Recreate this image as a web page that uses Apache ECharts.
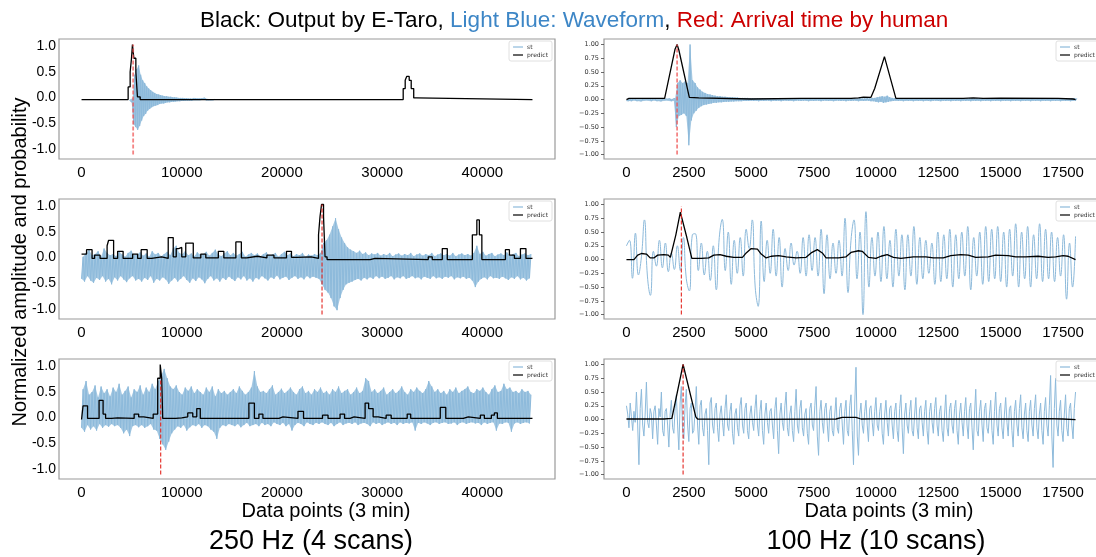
<!DOCTYPE html>
<html><head><meta charset="utf-8">
<script src="https://cdn.jsdelivr.net/npm/echarts@6/dist/echarts.min.js"></script>
<style>html,body{margin:0;padding:0;background:#fff}#c{width:1096px;height:557px}</style>
</head><body><div id="c"></div><script>
// ---------- tick labels ----------
const ticksX250 = [0, 10000, 20000, 30000, 40000];
const ticksX100 = [0, 2500, 5000, 7500, 10000, 12500, 15000, 17500];
const ticksYL = [-1, -0.5, 0, 0.5, 1];
const ticksYR = [-1, -0.75, -0.5, -0.25, 0, 0.25, 0.5, 0.75, 1];

// ---------- Panel A: 250 Hz, scan 1 (waveform envelope, sampled grid) ----------
const wA_start = 4800, wA_step = 200;
const wA_hi = [0.01,0.02,0.45,0.55,0.62,0.45,0.35,0.3,0.24,0.2,
  0.17,0.14,0.12,0.1,0.09,0.08,0.07,0.06,0.06,0.05,
  0.05,0.04,0.04,0.035,0.03,0.03,0.03,0.025,0.025,0.02,
  0.02,0.02,0.02,0.015,0.015,0.015,0.02,0.03,0.015,0.01,
  0.01,0.01,0.005];
const wA_lo = [-0.01,-0.05,-0.45,-0.5,-0.55,-0.48,-0.38,-0.3,-0.26,-0.2,
  -0.17,-0.14,-0.12,-0.11,-0.1,-0.08,-0.07,-0.07,-0.06,-0.05,
  -0.05,-0.04,-0.04,-0.035,-0.03,-0.03,-0.025,-0.025,-0.02,-0.02,
  -0.02,-0.02,-0.015,-0.015,-0.015,-0.015,-0.01,-0.01,-0.01,-0.01,
  -0.01,-0.01,-0.005];
const pA_x = [0,4650,4850,4980,5080,5220,5420,5580,5850,32100,32300,32450,32700,32900,33150,33400,45000];
const pA_y = [0,0.23,0.5,0.74,1.0,0.75,0.5,0.05,0,0.2,0.35,0.42,0.35,0.2,0.03,0,0];
const rA_x = 5150;

// ---------- Panel B: 100 Hz, scan 1 ----------
const wB_start = 0, wB_step = 100;
const wB_hi = [0.01,0.015,0.01,0.012,0.01,0.015,0.01,0.012,0.01,0.015,
  0.01,0.012,0.01,0.015,0.01,0.012,0.01,0.015,0.01,0.02,
  0.3,0.35,0.3,0.33,0.3,1.0,0.35,0.3,0.22,0.18,
  0.14,0.12,0.1,0.09,0.08,0.07,0.06,0.06,0.05,0.05,
  0.045,0.04,0.04,0.035,0.035,0.03,0.03,0.03,0.03,0.025,
  0.025,0.02,0.025,0.02,0.025,0.02,0.02,0.025,0.02,0.02,
  0.02,0.025,0.02,0.02,0.025,0.02,0.02,0.02,0.025,0.02,
  0.02,0.02,0.025,0.02,0.02,0.02,0.025,0.02,0.02,0.02,
  0.025,0.02,0.02,0.02,0.025,0.02,0.02,0.02,0.02,0.025,
  0.02,0.02,0.02,0.025,0.02,0.02,0.025,0.02,0.03,0.03,
  0.04,0.05,0.06,0.05,0.07,0.04,0.03,0.025,0.02,0.02,
  0.02,0.025,0.02,0.02,0.02,0.025,0.02,0.02,0.02,0.025,
  0.02,0.02,0.025,0.02,0.02,0.02,0.025,0.02,0.02,0.02,
  0.025,0.02,0.02,0.02,0.025,0.02,0.02,0.02,0.025,0.02,
  0.02,0.025,0.02,0.02,0.02,0.025,0.02,0.02,0.02,0.025,
  0.02,0.02,0.025,0.02,0.02,0.02,0.025,0.02,0.02,0.02,
  0.025,0.02,0.02,0.02,0.025,0.02,0.02,0.02,0.025,0.02,
  0.02,0.025,0.02,0.02,0.02,0.025,0.02,0.02,0.02,0.025,0.02];
const wB_lo = [-0.02,-0.025,-0.03,-0.02,-0.025,-0.02,-0.03,-0.025,-0.02,-0.025,
  -0.03,-0.02,-0.025,-0.02,-0.03,-0.025,-0.02,-0.025,-0.03,-0.025,
  -0.5,-0.3,-0.28,-0.25,-0.3,-0.83,-0.38,-0.25,-0.2,-0.15,
  -0.12,-0.1,-0.09,-0.08,-0.07,-0.06,-0.06,-0.05,-0.05,-0.045,
  -0.04,-0.04,-0.035,-0.035,-0.03,-0.03,-0.03,-0.025,-0.025,-0.025,
  -0.02,-0.025,-0.02,-0.03,-0.02,-0.025,-0.02,-0.02,-0.03,-0.02,
  -0.025,-0.02,-0.03,-0.02,-0.02,-0.025,-0.02,-0.03,-0.02,-0.02,
  -0.025,-0.02,-0.02,-0.03,-0.02,-0.025,-0.02,-0.02,-0.03,-0.02,
  -0.02,-0.025,-0.02,-0.03,-0.02,-0.02,-0.025,-0.02,-0.03,-0.02,
  -0.025,-0.02,-0.02,-0.03,-0.02,-0.025,-0.02,-0.02,-0.03,-0.03,
  -0.04,-0.05,-0.04,-0.06,-0.05,-0.04,-0.03,-0.025,-0.02,-0.025,
  -0.02,-0.03,-0.02,-0.025,-0.02,-0.03,-0.02,-0.025,-0.02,-0.03,
  -0.02,-0.025,-0.03,-0.02,-0.02,-0.025,-0.03,-0.02,-0.025,-0.02,
  -0.03,-0.02,-0.025,-0.02,-0.03,-0.02,-0.025,-0.02,-0.03,-0.02,
  -0.025,-0.02,-0.03,-0.02,-0.025,-0.02,-0.03,-0.02,-0.025,-0.02,
  -0.03,-0.02,-0.025,-0.02,-0.03,-0.02,-0.025,-0.02,-0.03,-0.02,
  -0.025,-0.02,-0.03,-0.02,-0.025,-0.02,-0.03,-0.02,-0.025,-0.02,
  -0.03,-0.02,-0.025,-0.02,-0.03,-0.02,-0.025,-0.02,-0.03,-0.02,-0.02];
const pB_x = [0,100,1530,1950,2030,2100,2520,2900,2950,5000,7000,9000,9300,9500,9800,9950,10340,10420,10800,12000,13500,13900,14300,15000,17300,17900,18000];
const pB_y = [0,0.02,0.02,0.92,1.0,0.9,0.04,0.03,0.01,0.01,0.02,0.02,0.03,0.045,0.04,0.2,0.78,0.76,0.02,0.02,0.02,0.03,0.02,0.025,0.02,0.01,0];
const rB_x = 2030;

// ---------- Panel C: 250 Hz, scan 2 ----------
const wC_start = 0, wC_step = 300;
const wC_hi = [0.05,0.12,0.18,0.08,0.1,0.15,0.05,0.2,0.12,0.08,
  0.1,0.06,0.14,0.09,0.05,0.12,0.16,0.08,0.1,0.13,
  0.07,0.11,0.05,0.15,0.09,0.12,0.06,0.1,0.14,0.08,
  0.2,0.25,0.12,0.1,0.15,0.08,0.11,0.06,0.13,0.09,
  0.1,0.14,0.07,0.12,0.18,0.09,0.06,0.11,0.15,0.08,
  0.12,0.07,0.1,0.14,0.05,0.09,0.12,0.08,0.11,0.06,
  0.1,0.13,0.07,0.09,0.12,0.05,0.1,0.14,0.08,0.11,
  0.06,0.1,0.08,0.12,0.05,0.09,0.07,0.1,0.08,0.12,
  0.3,0.35,0.45,0.6,0.75,0.55,0.4,0.3,0.22,0.18,
  0.15,0.12,0.16,0.1,0.13,0.08,0.11,0.09,0.12,0.07,
  0.1,0.08,0.12,0.06,0.09,0.11,0.07,0.1,0.08,0.12,
  0.06,0.09,0.11,0.07,0.1,0.08,0.12,0.06,0.09,0.11,
  0.08,0.1,0.07,0.12,0.06,0.09,0.11,0.08,0.1,0.07,
  0.12,0.25,0.1,0.14,0.07,0.1,0.12,0.06,0.09,0.11,
  0.08,0.13,0.07,0.1,0.12,0.06,0.09,0.11,0.08,0.1];
const wC_lo = [-0.35,-0.4,-0.3,-0.38,-0.42,-0.33,-0.37,-0.3,-0.4,-0.35,
  -0.45,-0.32,-0.38,-0.3,-0.36,-0.41,-0.34,-0.3,-0.38,-0.35,
  -0.4,-0.33,-0.37,-0.3,-0.42,-0.35,-0.38,-0.32,-0.36,-0.44,
  -0.38,-0.33,-0.4,-0.35,-0.3,-0.37,-0.42,-0.34,-0.39,-0.32,
  -0.36,-0.43,-0.35,-0.3,-0.38,-0.34,-0.4,-0.33,-0.37,-0.31,
  -0.35,-0.39,-0.32,-0.36,-0.3,-0.38,-0.34,-0.4,-0.33,-0.36,
  -0.3,-0.34,-0.38,-0.32,-0.35,-0.29,-0.36,-0.33,-0.31,-0.37,
  -0.33,-0.3,-0.35,-0.32,-0.36,-0.3,-0.34,-0.31,-0.33,-0.35,
  -0.45,-0.55,-0.6,-0.7,-0.85,-0.92,-0.7,-0.55,-0.45,-0.42,
  -0.4,-0.37,-0.35,-0.38,-0.33,-0.36,-0.32,-0.35,-0.3,-0.34,
  -0.31,-0.35,-0.33,-0.3,-0.36,-0.32,-0.34,-0.3,-0.35,-0.33,
  -0.3,-0.34,-0.32,-0.36,-0.31,-0.33,-0.35,-0.3,-0.34,-0.32,
  -0.35,-0.31,-0.33,-0.3,-0.36,-0.32,-0.34,-0.31,-0.35,-0.33,
  -0.38,-0.5,-0.4,-0.35,-0.32,-0.36,-0.3,-0.34,-0.33,-0.35,
  -0.31,-0.34,-0.37,-0.32,-0.35,-0.3,-0.36,-0.33,-0.38,-0.34];
const pC_x = [0,500,1050,1300,1850,2550,2700,3200,3600,4150,5100,5600,5950,6550,7000,8000,8650,9150,9450,9700,10000,10400,11150,11900,12400,13650,14200,15400,15950,16500,17550,18500,19200,20450,20950,21500,22900,23650,23800,23950,24150,24300,24500,28800,29300,34600,35000,36000,36500,39000,39450,39700,39950,42300,42700,43200,43800,44350,45000];
const pC_y = [0.1,0.18,0.02,0.08,0.02,0.25,0.35,0.02,0.15,0.02,0.1,0.02,0.18,0.02,0.05,0.02,0.4,0.05,0.2,0.22,0.05,0.3,0.03,0.1,0.03,0.15,0.03,0.32,0.03,0.06,0.03,0.08,0.03,0.15,0.04,0.05,0.02,0.45,0.78,1.0,0.78,0.05,0.0,0.02,0.0,0.05,0.0,0.2,0.0,0.45,0.72,0.45,0.0,0.18,0.08,0.02,0.2,0.02,0.02];
const rC_x = 24000;

// ---------- Panel D: 100 Hz, scan 2 (filtered waveform) ----------
const wD_start = 0, wD_step = 120;
const wD = [0.25,0.35,-0.34,0.48,-0.28,0.05,0.72,-0.3,-0.65,0.15,
  -0.12,0.35,-0.15,0.3,-0.22,0.12,-0.18,0.25,-0.2,0.4,
  -0.35,-0.57,0.45,0.47,-0.2,0.3,-0.28,0.15,-0.38,0.25,
  -0.55,0.4,0.73,-0.2,0.5,-0.45,0.35,-0.25,0.4,-0.3,
  0.55,0.2,0.72,-0.5,-0.85,0.7,-0.4,0.35,-0.25,0.55,
  -0.3,0.4,-0.5,0.2,-0.2,0.3,-0.1,0.15,-0.25,0.4,
  -0.3,0.45,-0.2,0.4,-0.3,0.55,-0.62,0.45,-0.35,0.3,
  -0.25,0.35,-0.3,0.75,-0.6,0.35,0.72,-0.35,0.5,-1.0,
  0.87,-0.5,0.4,-0.3,0.5,-0.4,0.6,-0.35,0.35,-0.5,
  0.55,-0.3,0.45,-0.55,0.45,-0.3,0.6,-0.45,0.4,-0.35,
  0.35,-0.25,0.3,-0.45,0.5,-0.4,0.45,-0.35,0.55,-0.5,
  0.45,-0.35,0.5,-0.3,0.6,-0.55,0.4,-0.3,0.5,-0.45,
  0.6,-0.4,0.55,-0.35,0.6,-0.4,0.5,-0.5,0.55,-0.3,
  0.65,-0.5,0.5,-0.35,0.6,-0.5,0.45,-0.35,0.65,-0.4,
  0.55,-0.35,0.5,-0.4,0.4,-0.3,0.45,-0.72,0.3,-0.5,
  0.42];
const pD_x = [0,300,450,600,800,950,1100,1250,1500,1680,1760,1980,2160,2220,2420,2620,3000,3300,3500,3750,4000,4300,4650,4800,5000,5250,5400,5600,5800,6100,6400,6800,7200,7400,7650,7850,8000,8500,8800,9000,9300,9450,9700,10000,10200,10450,10700,11000,11500,12000,12300,12700,13000,13400,13700,14000,14500,14800,15300,15600,16000,16500,16900,17200,17500,17700,18000];
const pD_y = [0,0,0.08,0.11,0.1,0.03,0.03,0.08,0.09,0.08,0.04,0.45,0.86,0.84,0.4,0.02,0.02,0.03,0.08,0.09,0.06,0.04,0.04,0.12,0.2,0.19,0.1,0.03,0.06,0.07,0.05,0.03,0.04,0.12,0.18,0.12,0.03,0.03,0.05,0.13,0.16,0.15,0.04,0.02,0.06,0.09,0.04,0.02,0.05,0.05,0.03,0.03,0.07,0.09,0.08,0.04,0.05,0.08,0.07,0.05,0.05,0.06,0.04,0.05,0.07,0.06,0];
const rD_x = 2200;

// ---------- Panel E: 250 Hz, scan 3 ----------
const wE_start = 0, wE_step = 300;
const wE_hi = [0.55,0.7,0.45,0.5,0.62,0.4,0.6,0.48,0.55,0.42,
  0.58,0.5,0.65,0.45,0.52,0.6,0.4,0.55,0.5,0.62,
  0.45,0.58,0.5,0.65,0.55,0.7,0.8,0.92,0.75,0.6,
  0.55,0.62,0.5,0.45,0.58,0.52,0.6,0.48,0.55,0.5,
  0.45,0.58,0.5,0.6,0.42,0.55,0.48,0.52,0.45,0.5,
  0.55,0.48,0.6,0.52,0.45,0.5,0.58,0.88,0.6,0.5,
  0.52,0.48,0.55,0.62,0.45,0.5,0.56,0.48,0.52,0.58,
  0.5,0.45,0.55,0.6,0.48,0.52,0.45,0.55,0.5,0.58,
  0.48,0.52,0.45,0.55,0.5,0.6,0.48,0.52,0.55,0.45,
  0.5,0.58,0.48,0.52,0.75,0.7,0.5,0.55,0.48,0.52,
  0.58,0.45,0.5,0.55,0.48,0.52,0.6,0.5,0.45,0.55,
  0.5,0.58,0.52,0.48,0.55,0.7,0.6,0.5,0.55,0.48,
  0.52,0.45,0.55,0.5,0.58,0.48,0.52,0.55,0.6,0.5,
  0.48,0.55,0.52,0.58,0.5,0.45,0.55,0.62,0.5,0.52,
  0.65,0.55,0.58,0.5,0.52,0.48,0.55,0.5,0.52,0.45];
const wE_lo = [-0.15,-0.22,-0.1,-0.18,-0.12,-0.2,-0.08,-0.15,-0.1,-0.13,
  -0.08,-0.12,-0.1,-0.15,-0.25,-0.18,-0.3,-0.12,-0.1,-0.14,
  -0.1,-0.15,-0.12,-0.08,-0.18,-0.2,-0.35,-0.45,-0.55,-0.4,
  -0.25,-0.18,-0.12,-0.15,-0.1,-0.2,-0.14,-0.1,-0.12,-0.08,
  -0.15,-0.1,-0.12,-0.18,-0.22,-0.35,-0.15,-0.1,-0.12,-0.08,
  -0.1,-0.12,-0.08,-0.14,-0.1,-0.06,-0.12,-0.1,-0.08,-0.12,
  -0.06,-0.1,-0.08,-0.12,-0.05,-0.08,-0.1,-0.06,-0.12,-0.08,
  -0.2,-0.1,-0.06,-0.08,-0.12,-0.05,-0.08,-0.1,-0.06,-0.08,
  -0.05,-0.08,-0.1,-0.06,-0.12,-0.08,-0.05,-0.1,-0.07,-0.06,
  -0.08,-0.05,-0.1,-0.07,-0.06,-0.08,-0.12,-0.05,-0.08,-0.06,
  -0.1,-0.07,-0.05,-0.08,-0.06,-0.1,-0.05,-0.08,-0.06,-0.07,
  -0.05,-0.2,-0.06,-0.08,-0.05,-0.07,-0.1,-0.06,-0.05,-0.08,
  -0.06,-0.05,-0.08,-0.07,-0.05,-0.1,-0.06,-0.05,-0.08,-0.06,
  -0.05,-0.07,-0.06,-0.1,-0.05,-0.08,-0.06,-0.05,-0.2,-0.07,
  -0.08,-0.05,-0.06,-0.22,-0.07,-0.05,-0.08,-0.06,-0.05,-0.07];
const pE_x = [0,150,600,1750,2150,2400,3000,3600,5250,5700,6200,7150,7600,7850,8000,8100,9400,10000,10600,11100,11500,11850,13300,16700,17250,17700,18100,19700,20100,21600,22150,24050,24600,25800,26250,26800,27200,28300,28650,29100,29600,30400,30900,32500,32850,35800,36350,38100,38600,39800,40200,40900,41200,41500,45000];
const pE_y = [0,0.25,0.02,0.35,0.1,0.02,0.03,0.02,0.1,0.05,0.02,0.1,0.75,1.0,0.75,0.02,0.03,0.05,0.12,0.05,0.2,0.02,0.02,0.3,0.02,0.1,0.02,0.05,0.02,0.15,0.02,0.08,0.02,0.1,0.02,0.05,0.02,0.3,0.2,0.05,0.02,0.08,0.02,0.1,0.02,0.22,0.02,0.05,0.02,0.08,0.02,0.08,0.12,0.02,0.02];
const rE_x = 7900;

// ---------- Panel F: 100 Hz, scan 3 ----------
const wF_start = 0, wF_step = 50;
const wF = [0.25,0.1,-0.15,0.3,0.05,-0.2,0.15,-0.05,0.5,-0.1,
  -0.82,0.2,0.55,-0.1,-0.3,0.1,0.68,-0.05,-0.15,0.2,
  0.1,-0.35,0.15,0.25,-0.1,-0.45,0.2,0.05,0.5,-0.2,
  -0.3,0.15,0.2,-0.1,-0.5,0.1,0.35,-0.15,-0.25,0.2,
  0.45,-0.1,-0.55,0.3,0.6,-0.2,-0.35,0.25,0.55,-0.1,
  -0.4,0.2,0.3,-0.25,-0.2,0.15,0.6,-0.1,-0.45,0.25,
  0.35,-0.15,-0.3,0.1,0.2,-0.2,-0.82,0.3,0.4,-0.1,
  -0.25,0.2,0.3,-0.15,-0.4,0.1,0.25,-0.05,-0.3,0.2,
  0.45,-0.1,-0.2,0.15,0.3,-0.25,-0.45,0.1,0.2,-0.15,
  -0.3,0.25,0.4,-0.1,-0.25,0.2,0.3,-0.2,-0.35,0.1,
  0.25,-0.05,-0.2,0.2,0.45,-0.1,-0.3,0.15,0.35,-0.2,
  -0.45,0.1,0.3,-0.05,-0.25,0.15,0.2,-0.1,-0.35,0.2,
  0.4,-0.2,-0.62,0.1,0.3,-0.05,-0.2,0.25,0.5,-0.15,
  -0.3,0.1,0.25,-0.2,-0.4,0.15,0.55,-0.1,-0.25,0.2,
  0.35,-0.15,-0.3,0.1,0.2,-0.25,-0.45,0.2,0.3,-0.1,
  -0.2,0.25,0.6,-0.3,-0.65,0.15,0.35,-0.05,-0.25,0.2,
  0.3,-0.1,-0.4,0.15,0.25,-0.2,-0.3,0.1,0.4,-0.15,
  -0.25,0.2,0.3,-0.1,-0.45,0.15,0.35,-0.2,-0.3,0.25,
  0.45,-0.2,-0.82,0.3,0.95,-0.3,-0.65,0.1,0.3,-0.1,
  -0.25,0.15,0.35,-0.1,-0.4,0.2,0.25,-0.05,-0.3,0.15,
  0.4,-0.1,-0.2,0.15,0.3,-0.25,-0.45,0.1,0.35,-0.05,
  -0.3,0.2,0.25,-0.1,-0.35,0.15,0.3,-0.2,-0.4,0.2,
  0.45,-0.15,-0.62,0.1,0.3,-0.1,-0.25,0.15,0.35,-0.2,
  -0.3,0.1,0.4,-0.15,-0.35,0.2,0.25,-0.05,-0.3,0.15,
  0.35,-0.2,-0.45,0.15,0.3,-0.05,-0.25,0.2,0.4,-0.1,
  -0.3,0.15,0.25,-0.2,-0.4,0.1,0.45,-0.15,-0.3,0.2,
  0.3,-0.1,-0.25,0.2,0.35,-0.2,-0.45,0.1,0.3,-0.05,
  -0.3,0.15,0.4,-0.1,-0.35,0.2,0.3,-0.15,-0.55,0.1,
  0.55,-0.2,-0.3,0.15,0.35,-0.1,-0.4,0.2,0.3,-0.15,
  -0.25,0.1,0.35,-0.2,-0.45,0.15,0.5,-0.1,-0.3,0.2,
  0.3,-0.15,-0.35,0.1,0.4,-0.05,-0.3,0.2,0.25,-0.2,
  -0.5,0.15,0.35,-0.1,-0.3,0.2,0.45,-0.15,-0.35,0.1,
  0.3,-0.2,-0.4,0.15,0.35,-0.1,-0.3,0.2,0.45,-0.15,
  -0.35,0.1,0.3,-0.2,-0.45,0.15,0.4,-0.1,-0.3,0.25,
  0.8,-0.3,-0.87,0.2,0.75,-0.1,-0.3,0.15,0.35,-0.2,
  -0.4,0.1,0.45,-0.15,-0.3,0.2,0.3,-0.1,-0.35,0.2,
  0.5];
const pF_x = [0,1500,1820,2270,2780,2850,5000,8400,8650,9200,9400,10500,13000,15500,16800,17500,18000];
const pF_y = [0.01,0.01,0.02,1.0,0.05,0.01,0.005,0.01,0.04,0.04,0.01,0.015,0.01,0.01,0.015,0.01,0];
const rF_x = 2270;

// ---------- build ----------
const BLUE = '#8dbadb';
const BAND_FILL = 'rgba(141,186,219,0.8)';
const FONT = 'Liberation Sans, Arial, sans-serif';
function bandPts(start, step, hi, lo) {
  const out = [];
  for (let i = 0; i < hi.length; i++) {
    const x = start + i * step;
    out.push([x, lo[i]]);
    out.push([x + step / 2, hi[i]]);
  }
  return out;
}
function wavePts(start, step, v) { return v.map((y, i) => [start + i * step, y]); }
function zip(xs, ys) { return xs.map((x, i) => [x, ys[i]]); }

const panels = [
  {side: 'L', row: 0, band: [wA_start, wA_step, wA_hi, wA_lo], pr: zip(pA_x, pA_y), red: rA_x, redTop: 1, light: true},
  {side: 'R', row: 0, band: [wB_start, wB_step, wB_hi, wB_lo], pr: zip(pB_x, pB_y), red: rB_x, redTop: 1, light: true},
  {side: 'L', row: 1, band: [wC_start, wC_step, wC_hi, wC_lo], pr: zip(pC_x, pC_y), red: rC_x, redTop: 1},
  {side: 'R', row: 1, wave: wavePts(wD_start, wD_step, wD), pr: zip(pD_x, pD_y), red: rD_x, redTop: 0.97, smooth: true},
  {side: 'L', row: 2, band: [wE_start, wE_step, wE_hi, wE_lo], pr: zip(pE_x, pE_y), red: rE_x, redTop: 0.75},
  {side: 'R', row: 2, wave: wavePts(wF_start, wF_step, wF), pr: zip(pF_x, pF_y), red: rF_x, redTop: 1}
];
const TOPS = [39, 199, 359];

const grid = [], xAxis = [], yAxis = [], series = [], legend = [];
panels.forEach((p, k) => {
  const L = p.side === 'L';
  grid.push({left: L ? 59 : 604, width: L ? 496 : 494, top: TOPS[p.row], height: 120,
    show: true, borderColor: '#9a9a9a', borderWidth: 1.2, backgroundColor: '#fff',
    containLabel: false, outerBoundsMode: 'none'});
  xAxis.push({gridIndex: k, type: 'value', min: L ? -2250 : -900, max: L ? 47250 : 18900,
    axisLine: {show: false}, axisTick: {show: false}, splitLine: {show: false},
    axisLabel: {customValues: L ? ticksX250 : ticksX100, formatter: v => String(v),
      fontSize: 15, color: '#000', fontFamily: FONT, margin: 6}});
  // data axis
  yAxis.push({gridIndex: k, type: 'value', position: 'left', min: -1.08, max: 1.1, show: false});
  // label axis
  if (L) {
    yAxis.push({gridIndex: k, type: 'value', position: 'left', min: -1.2, max: 1.14,
      axisLine: {show: false}, axisTick: {show: false}, splitLine: {show: false},
      axisLabel: {customValues: ticksYL, formatter: v => v.toFixed(1), fontSize: 14, color: '#000', fontFamily: FONT, margin: 3}});
  } else {
    yAxis.push({gridIndex: k, type: 'value', position: 'left', min: -1.08, max: 1.1,
      axisLine: {show: false}, splitLine: {show: false},
      axisTick: {show: true, customValues: ticksYR, length: 3, lineStyle: {color: '#444', width: 0.8}},
      axisLabel: {customValues: ticksYR, formatter: v => (v < 0 ? '\u2212' : '') + Math.abs(v).toFixed(2),
        fontSize: 6.5, color: '#333', fontFamily: 'DejaVu Sans', margin: 5}});
  }
  if (p.band) {
    const [st, sp, hi, lo] = p.band;
    series.push({type: 'custom', name: 'stfill', xAxisIndex: k, yAxisIndex: 2 * k, data: [[st, 0]], z: 1, silent: true, clip: true,
      renderItem: (params, api) => {
        const pts = [];
        for (let i = 0; i < hi.length; i++) pts.push(api.coord([st + i * sp + sp / 2, hi[i]]));
        for (let i = lo.length - 1; i >= 0; i--) pts.push(api.coord([st + i * sp, lo[i]]));
        return {type: 'polygon', shape: {points: pts}, style: {fill: BAND_FILL, stroke: null}};
      }});
  }
  series.push({name: 'st', type: 'line', xAxisIndex: k, yAxisIndex: 2 * k,
    data: p.band ? bandPts(...p.band) : p.wave,
    showSymbol: false, smooth: p.smooth ? 0.5 : false, lineStyle: {color: BLUE, width: 1}, itemStyle: {color: BLUE},
    z: 2, silent: true});
  series.push({name: 'predict', type: 'line', xAxisIndex: k, yAxisIndex: 2 * k, data: p.pr,
    showSymbol: false, step: L ? 'end' : false, lineStyle: {color: '#000', width: 1.3}, itemStyle: {color: '#000'},
    z: 3, silent: true});
  series.push({name: 'arrival', type: 'line', xAxisIndex: k, yAxisIndex: 2 * k, data: [[p.red, -1], [p.red, p.redTop]],
    showSymbol: false, lineStyle: {color: p.light ? 'rgba(240,80,80,0.7)' : '#e3241e', width: p.light ? 1.8 : 1.1, type: [4, 2]},
    z: 4, silent: true});
  const lg = {orient: 'vertical', top: TOPS[p.row] + 2, itemWidth: 10, itemHeight: 1.2, itemGap: 2,
    padding: [3, 4, 3, 4], borderColor: '#d8d8d8', borderWidth: 0.8, borderRadius: 2, backgroundColor: '#fff',
    textStyle: {fontSize: 6, color: '#333', fontFamily: 'DejaVu Sans', padding: [0, 0, 0, -1]},
    selectedMode: false,
    data: [{name: 'st', icon: 'rect', itemStyle: {color: BLUE}}, {name: 'predict', icon: 'rect', itemStyle: {color: '#000'}}]};
  if (L) lg.right = 1096 - 552; else lg.left = 1056;
  legend.push(lg);
});

const chart = echarts.init(document.getElementById('c'), null, {renderer: 'canvas'});
chart.setOption({
  animation: false,
  backgroundColor: '#fff',
  title: {
    left: 195, top: 4,
    text: '{k|Black: Output by E-Taro, }{b|Light Blue: Waveform}{k|, }{r|Red: Arrival time by human}',
    textStyle: {fontWeight: 'normal', rich: {
      k: {color: '#000', fontSize: 22.5, fontWeight: 'normal', fontFamily: FONT},
      b: {color: '#3d86c6', fontSize: 22.5, fontWeight: 'normal', fontFamily: FONT},
      r: {color: '#cc0000', fontSize: 22.5, fontWeight: 'normal', fontFamily: FONT}
    }}
  },
  grid, xAxis, yAxis, series, legend,
  graphic: [
    {type: 'text', x: 20, y: 262, rotation: Math.PI / 2,
      style: {text: 'Normalized amplitude and probability', font: '20px ' + FONT, fill: '#000', align: 'center', verticalAlign: 'middle'}},
    {type: 'text', x: 326, y: 511,
      style: {text: 'Data points (3 min)', font: '20px ' + FONT, fill: '#000', align: 'center', verticalAlign: 'middle'}},
    {type: 'text', x: 889, y: 511,
      style: {text: 'Data points (3 min)', font: '20px ' + FONT, fill: '#000', align: 'center', verticalAlign: 'middle'}},
    {type: 'text', x: 311, y: 542,
      style: {text: '250 Hz (4 scans)', font: '27px ' + FONT, fill: '#000', align: 'center', verticalAlign: 'middle'}},
    {type: 'text', x: 876, y: 542,
      style: {text: '100 Hz (10 scans)', font: '27px ' + FONT, fill: '#000', align: 'center', verticalAlign: 'middle'}}
  ]
});
</script></body></html>
